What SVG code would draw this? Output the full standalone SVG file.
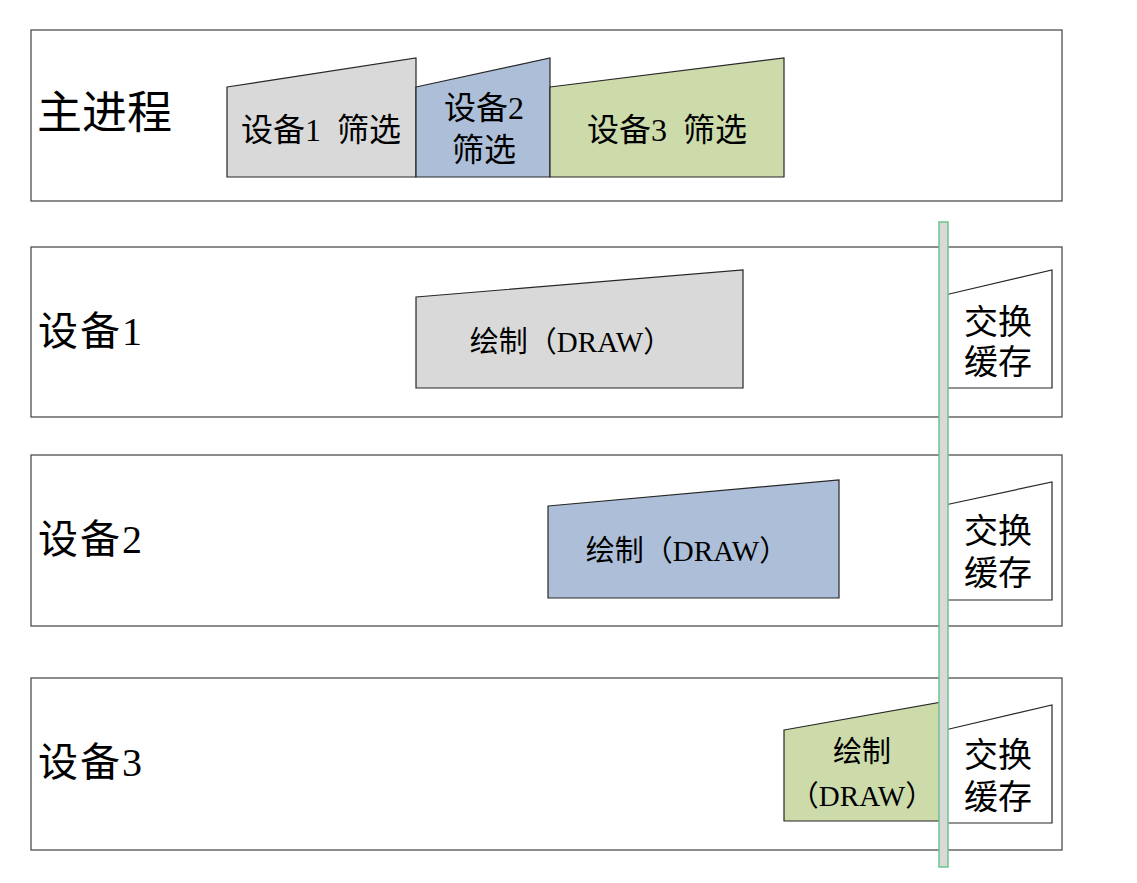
<svg xmlns="http://www.w3.org/2000/svg" width="1137" height="883" viewBox="0 0 1137 883">
<style>
.lane{fill:#fff;stroke:#404040;stroke-width:1.2}
.blk{stroke:#262626;stroke-width:1.2}
.g{fill:#d9d9d9}.b{fill:#adbfd8}.gr{fill:#cddbab}.w{fill:#fff}
text{font-family:"Liberation Serif","Noto Sans CJK SC",serif;fill:#000;text-anchor:middle;dominant-baseline:central}
.big{font-size:45px;text-anchor:start}
.lbl{font-size:40px;text-anchor:start;letter-spacing:2px}
.m{font-size:32px}
.s{font-size:29px}
.sw{font-size:34px}
</style>
<rect width="1137" height="883" fill="#fff"/>
<g id="lane-main">
<rect class="lane" x="31" y="30" width="1031" height="171"/>
<text class="big" x="37" y="114">主进程</text>
</g>
<g id="lane-dev1">
<rect class="lane" x="31" y="247" width="1031" height="170"/>
<text class="lbl" x="38" y="331">设备1</text>
</g>
<g id="lane-dev2">
<rect class="lane" x="31" y="455" width="1031" height="171"/>
<text class="lbl" x="38" y="539">设备2</text>
</g>
<g id="lane-dev3">
<rect class="lane" x="31" y="678" width="1031" height="172"/>
<text class="lbl" x="38" y="762">设备3</text>
</g>
<g id="filter1">
<polygon class="blk g" points="227,87 416,58 416,177 227,177"/>
<text class="m" x="321" y="130" xml:space="preserve">设备1  筛选</text>
</g>
<g id="filter2">
<polygon class="blk b" points="416,87 550,58 550,177 416,177"/>
<text class="m" x="484" y="108">设备2</text>
<text class="m" x="484" y="150">筛选</text>
</g>
<g id="filter3">
<polygon class="blk gr" points="550,87 784,58 784,177 550,177"/>
<text class="m" x="667" y="130" xml:space="preserve">设备3  筛选</text>
</g>
<g id="draw1">
<polygon class="blk g" points="416,297 743,270 743,388 416,388"/>
<text class="s" x="571" y="342">绘制（DRAW）</text>
</g>
<g id="draw2">
<polygon class="blk b" points="548,506 839,480 839,598 548,598"/>
<text class="s" x="687" y="551">绘制（DRAW）</text>
</g>
<g id="draw3">
<polygon class="blk gr" points="784,730 942,702 942,821 784,821"/>
<text class="s" x="862" y="752">绘制</text>
<text class="s" x="862" y="796">（DRAW）</text>
</g>
<g id="swap1">
<polygon class="blk w" points="945,295 1052,270 1052,388 945,388"/>
<text class="sw" x="998" y="322">交换</text>
<text class="sw" x="998" y="362">缓存</text>
</g>
<g id="swap2">
<polygon class="blk w" points="945,505 1052,482 1052,600 945,600"/>
<text class="sw" x="998" y="531">交换</text>
<text class="sw" x="998" y="573">缓存</text>
</g>
<g id="swap3">
<polygon class="blk w" points="945,730 1052,705 1052,823 945,823"/>
<text class="sw" x="998" y="755">交换</text>
<text class="sw" x="998" y="797">缓存</text>
</g>
<g id="sync-bar">
<rect x="939" y="222" width="9" height="645" fill="#d9d9d9" stroke="#6cc48f" stroke-width="1.5"/>
</g>
</svg>
